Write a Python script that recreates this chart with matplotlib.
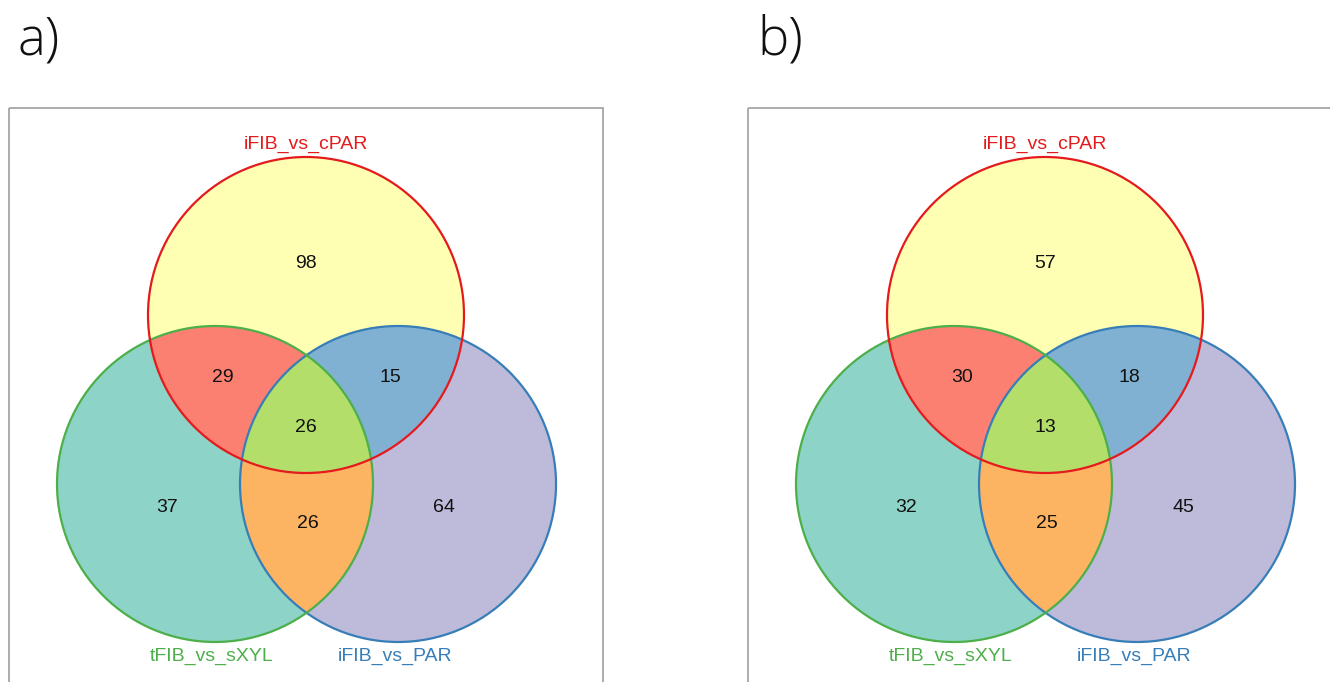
import numpy as np
import matplotlib
matplotlib.use("Agg")
import matplotlib.pyplot as plt
from matplotlib.patches import Circle, Rectangle

plt.rcParams['font.family'] = ['Liberation Sans', 'DejaVu Sans']

SET_NAMES = ["iFIB_vs_cPAR", "tFIB_vs_sXYL", "iFIB_vs_PAR"]
PANEL_LABELS = ["a)", "b)"]
# region order: A only, A&B, A&C, A&B&C, B only, B&C, C only
REGIONS = ["A", "AB", "AC", "ABC", "B", "BC", "C"]
COUNTS_A = [98, 29, 15, 26, 37, 26, 64]
COUNTS_B = [57, 30, 18, 13, 32, 25, 45]

REGION_COLORS = {
    "A": "#FFFFB3", "B": "#8DD3C7", "C": "#BEBADA",
    "AB": "#FB8072", "AC": "#80B1D3", "BC": "#FDB462", "ABC": "#B3DE69",
}
EDGE_COLORS = ["#E41A1C", "#4DAF4A", "#377EB8"]

R = 158
# circle centres relative to panel origin (top circle centre)
CENTRES = [(0, 0), (-91, 169), (92, 169)]
LABEL_OFFSETS = {
    "A": (0, -52), "AB": (-83, 63), "AC": (84, 63), "ABC": (0, 112),
    "B": (-139, 193), "BC": (2, 209), "C": (138, 193),
}

fig = plt.figure(figsize=(13.3, 6.82), dpi=100)
ax = fig.add_axes([0, 0, 1, 1])
ax.set_xlim(0, 1330)
ax.set_ylim(682, 0)
ax.axis("off")


def draw_panel(ox, oy, frame_x, frame_w, counts, letter):
    ax.add_patch(Rectangle((frame_x, 108), frame_w, 700, fill=False,
                           edgecolor="#a6a6a6", lw=1.3, zorder=1))
    ax.text(frame_x + 9, 41, letter, fontsize=38, va="center", ha="left",
            color="#111111", family=["Open Sans", "DejaVu Sans"],
            fontweight="light")

    x0, x1 = ox - 260, ox + 260
    y0, y1 = oy - 170, oy + 340
    xs = np.arange(x0, x1) + 0.5
    ys = np.arange(y0, y1) + 0.5
    xx, yy = np.meshgrid(xs, ys)
    inside = [((xx - (ox + cx)) ** 2 + (yy - (oy + cy)) ** 2) <= R ** 2
              for cx, cy in CENTRES]
    img = np.zeros(xx.shape + (4,))
    for key, col in REGION_COLORS.items():
        mask = np.ones(xx.shape, bool)
        for i, s in enumerate("ABC"):
            mask &= inside[i] if s in key else ~inside[i]
        img[mask] = matplotlib.colors.to_rgba(col)
    ax.imshow(img, extent=(x0, x1, y1, y0), interpolation="nearest", zorder=2)
    ax.set_xlim(0, 1330)
    ax.set_ylim(682, 0)

    for (cx, cy), ec in zip(reversed(CENTRES), reversed(EDGE_COLORS)):
        ax.add_patch(Circle((ox + cx, oy + cy), R, fill=False, edgecolor=ec,
                            lw=1.6, zorder=3))

    for key, n in zip(REGIONS, counts):
        dx, dy = LABEL_OFFSETS[key]
        ax.text(ox + dx, oy + dy, str(n), fontsize=14, ha="center",
                va="center", color="#111111", zorder=4)

    ax.text(ox, oy - 171, SET_NAMES[0], color=EDGE_COLORS[0], fontsize=14,
            ha="center", va="center", zorder=4)
    ax.text(ox - 94, oy + 341, SET_NAMES[1], color=EDGE_COLORS[1], fontsize=14,
            ha="center", va="center", zorder=4)
    ax.text(ox + 89, oy + 341, SET_NAMES[2], color=EDGE_COLORS[2], fontsize=14,
            ha="center", va="center", zorder=4)


draw_panel(306, 315, 9, 594, COUNTS_A, PANEL_LABELS[0])
draw_panel(1045, 315, 748, 700, COUNTS_B, PANEL_LABELS[1])

fig.savefig("out.png", dpi=100)
